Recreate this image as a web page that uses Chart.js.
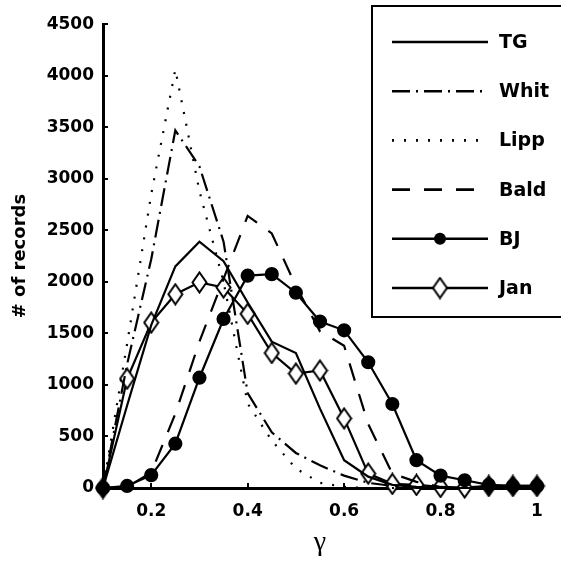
<!DOCTYPE html>
<html>
<head>
<meta charset="utf-8">
<script src="https://cdn.jsdelivr.net/npm/chart.js@4.4.0/dist/chart.umd.min.js"></script>
<style>
  html, body { margin: 0; padding: 0; background: #fff; }
  #wrap { width: 561px; height: 561px; }
</style>
</head>
<body>
<div id="wrap"><canvas id="chart" width="561" height="561"></canvas></div>
<script>
// gamma values on the x axis
const gamma = [0.1, 0.15, 0.2, 0.25, 0.3, 0.35, 0.4, 0.45, 0.5, 0.55, 0.6, 0.65, 0.7, 0.75, 0.8, 0.85, 0.9, 0.95, 1.0];

// number of records per method
const tgVals   = [0, 800, 1580, 2150, 2390, 2200, 1800, 1420, 1310, 770, 270, 110, 30, 10, 0, 0, 0, 0, 0];
const whitVals = [0, 1200, 2220, 3470, 3120, 2390, 920, 540, 340, 220, 120, 50, 20, 0, 0, 0, 0, 0, 0];
const lippVals = [0, 1400, 2850, 4060, 2880, 2000, 820, 460, 190, 50, 10, 0, 0, 0, 0, 0, 0, 0, 0];
const baldVals = [0, 10, 150, 720, 1420, 2030, 2640, 2470, 1960, 1520, 1380, 620, 140, 60, 10, 0, 0, 0, 0];
const bjVals   = [0, 20, 125, 430, 1070, 1640, 2060, 2075, 1895, 1615, 1530, 1220, 815, 270, 120, 75, 30, 20, 20];
const janVals  = [0, 1060, 1605, 1880, 1995, 1945, 1690, 1310, 1110, 1140, 675, 140, 40, 30, 10, 5, 20, 20, 20];

const names = ["TG", "Whit", "Lipp", "Bald", "BJ", "Jan"];
const xTicks = [0.2, 0.4, 0.6, 0.8, 1.0];
const yTicks = [0, 500, 1000, 1500, 2000, 2500, 3000, 3500, 4000, 4500];

// diamond marker for Jan (a bit taller than wide, like the original)
function makeDiamond(fill) {
  const c = document.createElement("canvas");
  c.width = 17; c.height = 23;
  const g = c.getContext("2d");
  g.beginPath();
  g.moveTo(8.5, 1.5);
  g.lineTo(15.5, 11.5);
  g.lineTo(8.5, 21.5);
  g.lineTo(1.5, 11.5);
  g.closePath();
  g.fillStyle = fill;
  g.fill();
  g.lineWidth = 2;
  g.strokeStyle = "#000";
  g.stroke();
  return c;
}
const diamondWhite = makeDiamond("#fff");
const diamondBlack = makeDiamond("#000");

function pts(vals) {
  return gamma.map((g, i) => ({ x: g, y: vals[i] }));
}

const tickFont = { family: "DejaVu Sans", weight: "bold", size: 17 };

// legend drawn inside the plot in a box, like the figure
const boxLegend = {
  id: "boxLegend",
  afterDraw(chart) {
    const ctx = chart.ctx;
    ctx.save();
    ctx.strokeStyle = "#000";
    ctx.lineWidth = 2;
    ctx.strokeRect(372, 6, 220, 311);
    chart.data.datasets.forEach((ds, i) => {
      const y = 42 + i * 49.2;
      ctx.save();
      ctx.beginPath();
      ctx.setLineDash(ds.borderDash || []);
      ctx.lineWidth = 2.6;
      ctx.strokeStyle = "#000";
      ctx.moveTo(392, y);
      ctx.lineTo(488, y);
      ctx.stroke();
      ctx.restore();
      if (ds.pointRadius > 0) {
        const style = ds.legendMarker || "circle";
        if (style === "circle") {
          ctx.beginPath();
          ctx.arc(440, y, 6, 0, Math.PI * 2);
          ctx.fillStyle = "#000";
          ctx.fill();
        } else {
          ctx.drawImage(style, 440 - style.width / 2, y - style.height / 2);
        }
      }
      ctx.fillStyle = "#000";
      ctx.font = "bold 19px 'DejaVu Sans'";
      ctx.textBaseline = "middle";
      ctx.textAlign = "left";
      ctx.fillText(ds.label, 499, y + 1);
    });
    ctx.restore();
  }
};

const common = { borderColor: "#000", borderWidth: 2.2, tension: 0, fill: false, clip: false };

new Chart(document.getElementById("chart"), {
  type: "line",
  data: {
    datasets: [
      { ...common, label: names[0], data: pts(tgVals), borderDash: [], pointRadius: 0 },
      { ...common, label: names[1], data: pts(whitVals), borderDash: [18, 6, 2, 6], pointRadius: 0 },
      { ...common, label: names[2], data: pts(lippVals), borderDash: [2, 10], pointRadius: 0 },
      { ...common, label: names[3], data: pts(baldVals), borderDash: [18, 14], pointRadius: 0 },
      { ...common, label: names[4], data: pts(bjVals), borderDash: [], pointRadius: 6, pointStyle: "circle",
        pointBackgroundColor: "#000", pointBorderColor: "#000" },
      { ...common, label: names[5], data: pts(janVals), borderDash: [], pointRadius: 10,
        // where the BJ dots sit on top, the diamonds look solid black
        pointStyle: c => (c.parsed && (c.parsed.x >= 0.875 || c.parsed.x < 0.125) ? diamondBlack : diamondWhite),
        pointBackgroundColor: "#fff", pointBorderColor: "#000",
        legendMarker: diamondWhite }
    ]
  },
  options: {
    responsive: false,
    animation: false,
    layout: { padding: { left: 0, right: 24, top: 22, bottom: 2 } },
    plugins: {
      legend: { display: false },
      tooltip: { enabled: false }
    },
    scales: {
      x: {
        type: "linear",
        min: 0.1,
        max: 1.0,
        afterBuildTicks: s => { s.ticks = xTicks.map(v => ({ value: v })); },
        afterFit: s => { s.height = 71; },
        ticks: {
          color: "#000",
          font: tickFont,
          padding: 18,
          maxRotation: 0,
          autoSkip: false,
          callback: v => String(+Number(v).toFixed(1))
        },
        grid: { drawOnChartArea: false, drawTicks: true, tickLength: -5, color: "#000", lineWidth: 2 },
        border: { color: "#000", width: 3 },
        title: {
          display: true,
          text: "γ",
          color: "#000",
          font: { family: "Liberation Serif", size: 28 },
          padding: { top: 0, bottom: 0 }
        }
      },
      y: {
        min: 0,
        max: 4500,
        afterBuildTicks: s => { s.ticks = yTicks.map(v => ({ value: v })); },
        afterFit: s => { s.width = 103; },
        ticks: {
          color: "#000",
          font: tickFont,
          padding: 14,
          autoSkip: false,
          callback: v => String(v)
        },
        grid: { drawOnChartArea: false, drawTicks: true, tickLength: -5, color: "#000", lineWidth: 2 },
        border: { color: "#000", width: 3 },
        title: {
          display: true,
          text: "# of records",
          color: "#000",
          font: { family: "DejaVu Sans", weight: "bold", size: 18 },
          padding: { top: 10, bottom: 0 }
        }
      }
    }
  },
  plugins: [boxLegend]
});
</script>
</body>
</html>
